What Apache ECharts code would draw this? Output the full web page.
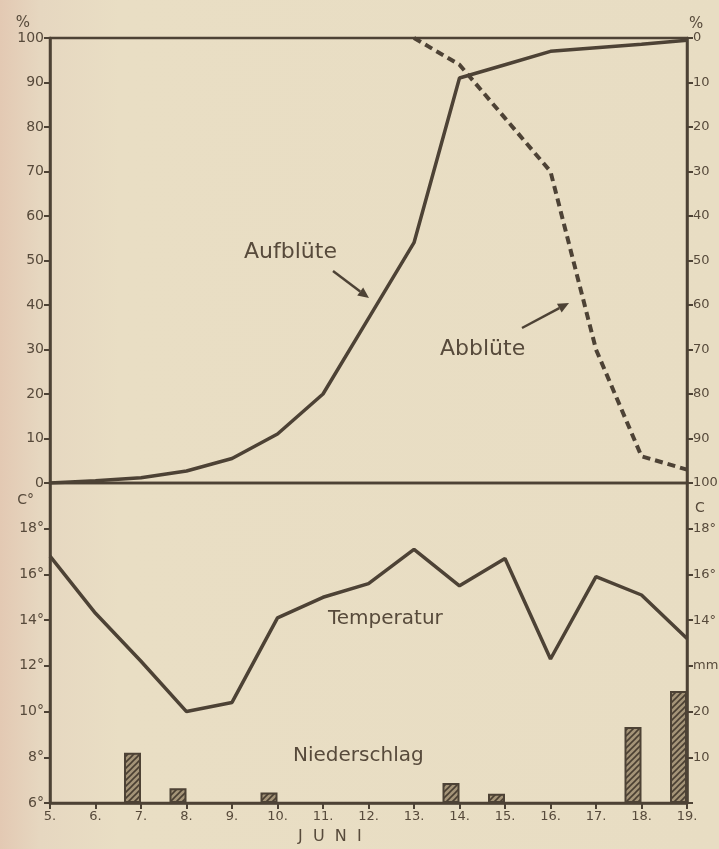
<!DOCTYPE html>
<html>
<head>
<meta charset="utf-8">
<script src="https://cdn.jsdelivr.net/npm/echarts@6/dist/echarts.min.js"></script>
<style>
  html, body { margin: 0; padding: 0; }
  body { background: linear-gradient(90deg, #e3c9b3 0px, #e6d7c0 40px, #e9dec4 120px, #e8ddc3 100%); }
  #main { width: 719px; height: 849px; }
</style>
</head>
<body>
<div id="main"></div>
<script>
var myChart = echarts.init(document.getElementById('main'));

var days = [5, 6, 7, 8, 9, 10, 11, 12, 13, 14, 15, 16, 17, 18, 19];
// Prozent aufgeblüht (linke Skala)
var aufbluete = [0, 0.5, 1.2, 2.7, 5.5, 11, 20, 37, 54, 91, 94, 97, 97.8, 98.6, 99.5];
// Prozent abgeblüht (rechte Skala, von oben nach unten)
var abbluete = ['-', '-', '-', '-', '-', '-', '-', '-', 0, 6, 18, 30, 70, 94, 97];
// Temperatur in °C
var temperatur = [16.8, 14.3, 12.2, 10.0, 10.4, 14.1, 15.0, 15.6, 17.1, 15.5, 16.7, 12.3, 15.9, 15.1, 13.2];
// Niederschlag in mm
var niederschlag = ['-', '-', 11, 3.2, '-', 2.3, '-', '-', '-', 4.4, 2, '-', '-', 16.6, 24.5];
// Beschriftung rechts unten (mm-Skala, oben Temperaturgrade)
var rightLabels = { 10: '10', 20: '20', 30: 'mm', 40: '14°', 50: '16°', 60: '18°' };

var ink = '#4d4235';
var txt = '#574a3b';
var font = 'DejaVu Sans';

// Schraffur für die Niederschlagsbalken
var hatch = document.createElement('canvas');
hatch.width = 6; hatch.height = 6;
var hc = hatch.getContext('2d');
hc.fillStyle = '#a49478';
hc.fillRect(0, 0, 6, 6);
hc.strokeStyle = '#4a3f32';
hc.lineWidth = 1.6;
hc.beginPath();
hc.moveTo(-1, 7); hc.lineTo(7, -1);
hc.moveTo(-4, 4); hc.lineTo(4, -4);
hc.moveTo(2, 10); hc.lineTo(10, 2);
hc.stroke();

function arrow(x1, y1, x2, y2) {
    var a = Math.atan2(y2 - y1, x2 - x1);
    var L = 11, W = 5;
    var bx = x2 - L * Math.cos(a), by = y2 - L * Math.sin(a);
    return {
        type: 'group',
        children: [
            { type: 'line', shape: { x1: x1, y1: y1, x2: bx, y2: by }, style: { stroke: ink, lineWidth: 2.5 } },
            { type: 'polygon', shape: { points: [[x2, y2],
                [bx + W * Math.sin(a), by - W * Math.cos(a)],
                [bx - W * Math.sin(a), by + W * Math.cos(a)]] }, style: { fill: ink } }
        ]
    };
}

function label(t, x, y, size) {
    return { type: 'text', left: x, top: y, style: { text: t, fill: txt, font: size + 'px "' + font + '"' } };
}

var axisCommon = {
    axisLine: { show: true, lineStyle: { color: ink, width: 2.5 } },
    axisTick: { show: true, length: 6, lineStyle: { color: ink, width: 2 } },
    axisLabel: { color: txt, fontFamily: font, fontSize: 14, margin: 6 },
    splitLine: { show: false }
};

option = {
    backgroundColor: 'transparent',
    animation: false,
    grid: [
        { left: 50, right: 32, top: 38, height: 445, show: true, borderColor: ink, borderWidth: 2.5, outerBoundsMode: 'none' },
        { left: 50, right: 32, top: 483, height: 320, show: true, borderColor: ink, borderWidth: 2.5, outerBoundsMode: 'none' }
    ],
    xAxis: [
        {
            type: 'category', gridIndex: 0, data: days, boundaryGap: false,
            axisLine: { show: false }, axisTick: { show: false }, axisLabel: { show: false }
        },
        {
            type: 'category', gridIndex: 1, data: days, boundaryGap: false,
            axisLine: { show: true, lineStyle: { color: ink, width: 2.5 } },
            axisTick: { show: true, inside: false, length: 6, lineStyle: { color: ink, width: 2 } },
            axisLabel: { color: txt, fontFamily: font, fontSize: 13, margin: 7, formatter: function (v) { return v + '.'; } }
        }
    ],
    yAxis: [
        Object.assign({}, axisCommon, {
            type: 'value', gridIndex: 0, min: 0, max: 100, interval: 10, position: 'left',
            name: '%', nameLocation: 'end', nameGap: 6,
            nameTextStyle: { color: txt, fontFamily: font, fontSize: 15, align: 'right', padding: [0, 20, 0, 0] }
        }),
        Object.assign({}, axisCommon, {
            type: 'value', gridIndex: 0, min: 0, max: 100, interval: 10, position: 'right', inverse: true,
            name: '%', nameLocation: 'start', nameGap: 4,
            nameTextStyle: { color: txt, fontFamily: font, fontSize: 15, align: 'left', padding: [0, 0, 0, 2] },
            axisLabel: { color: txt, fontFamily: font, fontSize: 13, margin: 6 }
        }),
        Object.assign({}, axisCommon, {
            type: 'value', gridIndex: 1, min: 6, max: 20, interval: 2, position: 'left',
            name: 'C°', nameLocation: 'end', nameGap: -24,
            nameTextStyle: { color: txt, fontFamily: font, fontSize: 14, align: 'right', padding: [0, 16, 0, 0] },
            axisLabel: { color: txt, fontFamily: font, fontSize: 14, margin: 6,
                formatter: function (v) { return v === 20 ? '' : v + '°'; } }
        }),
        Object.assign({}, axisCommon, {
            type: 'value', gridIndex: 1, min: 0, max: 70, interval: 10, position: 'right',
            name: 'C', nameLocation: 'end', nameGap: -32,
            nameTextStyle: { color: txt, fontFamily: font, fontSize: 14, align: 'left', padding: [0, 0, 0, 8] },
            axisLabel: { color: txt, fontFamily: font, fontSize: 13, margin: 6,
                formatter: function (v) { return rightLabels[v] || ''; } }
        })
    ],
    series: [
        {
            name: 'Aufblüte', type: 'line', xAxisIndex: 0, yAxisIndex: 0, data: aufbluete,
            symbol: 'none', lineStyle: { color: ink, width: 3.5 }
        },
        {
            name: 'Abblüte', type: 'line', xAxisIndex: 0, yAxisIndex: 1, data: abbluete,
            symbol: 'none', lineStyle: { color: ink, width: 4, type: [8, 5] }
        },
        {
            name: 'Temperatur', type: 'line', xAxisIndex: 1, yAxisIndex: 2, data: temperatur,
            symbol: 'none', lineStyle: { color: ink, width: 3.5 }
        },
        {
            name: 'Niederschlag', type: 'bar', xAxisIndex: 1, yAxisIndex: 3, data: niederschlag,
            barWidth: 17, barGap: '0%',
            itemStyle: { color: { image: hatch, repeat: 'repeat' }, borderColor: ink, borderWidth: 2 }
        },
        {
            // leere Reihe: schiebt die Balken links neben den Tagesstrich
            name: 'leer', type: 'bar', xAxisIndex: 1, yAxisIndex: 3,
            data: days.map(function () { return '-'; }), barWidth: 17, barGap: '0%', silent: true
        }
    ],
    graphic: [
        label('Aufblüte', 244, 241, 22),
        arrow(333, 271, 369, 298),
        label('Abblüte', 440, 338, 22),
        arrow(522, 328, 569, 303),
        label('Temperatur', 328, 609, 20),
        label('Niederschlag', 293, 746, 20),
        label('J  U  N  I', 298, 829, 16)
    ]
};

myChart.setOption(option);
</script>
</body>
</html>
